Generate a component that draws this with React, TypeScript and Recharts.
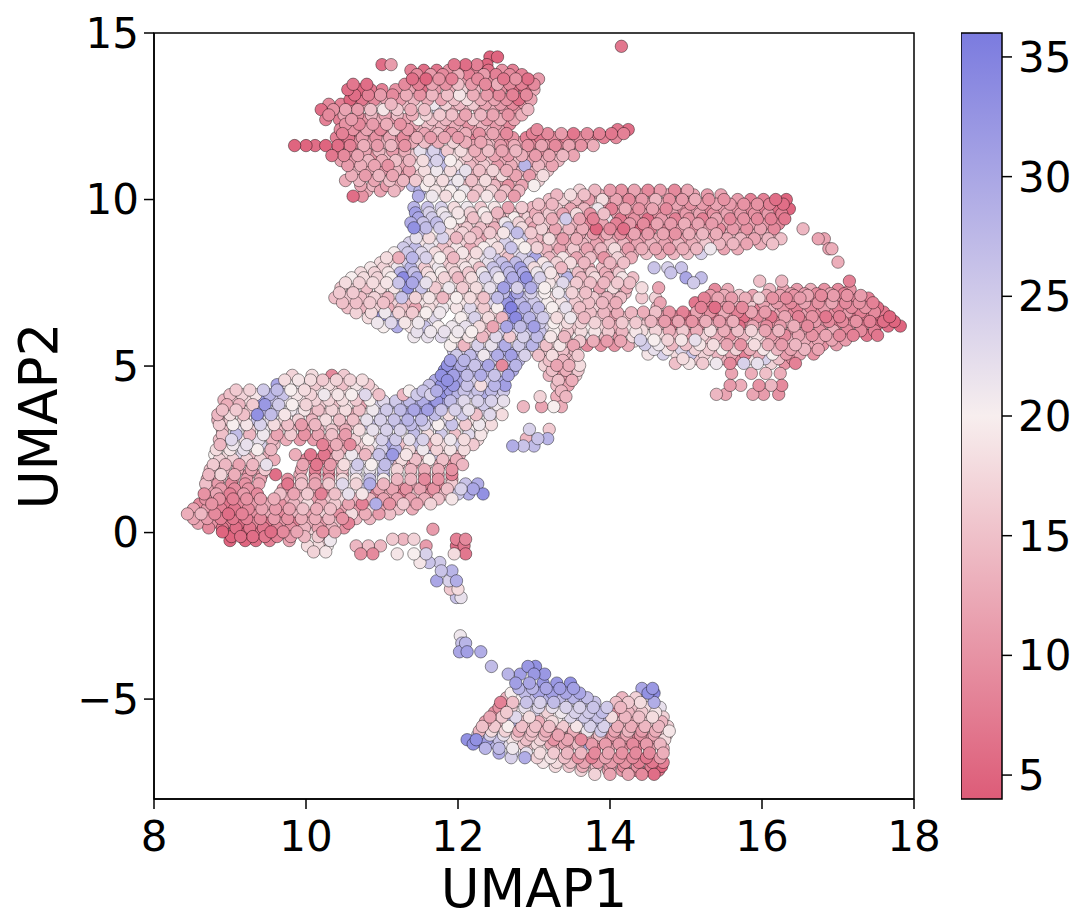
import { Bar, BarChart, ReferenceArea, Scatter, ScatterChart, XAxis, YAxis } from "recharts"

// each row: [umap2, umap1, value, umap1, value, ...]
const topRows: number[][] = [
  [14.6, 14.15, 7],
  [14.28, 12.42, 5, 12.52, 5],
  [14.05, 11.0, 6, 11.12, 11, 11.95, 7, 12.1, 6, 12.25, 8, 12.38, 5],
  [13.88, 11.38, 8, 11.55, 6, 11.72, 7, 11.88, 10, 12.05, 7, 12.22, 9, 12.4, 6, 12.58, 10, 12.72, 8],
  [13.62, 11.4, 6, 11.58, 5, 11.75, 10, 11.92, 8, 12.1, 12, 12.26, 9, 12.44, 10, 12.6, 7, 12.76, 10, 12.92, 6, 13.06, 11],
  [13.3, 10.55, 6, 10.7, 5, 10.85, 7, 11.0, 8, 11.18, 10, 11.36, 12, 11.52, 6, 11.7, 11, 11.88, 13, 12.05, 17, 12.22, 14, 12.4, 6, 12.56, 10, 12.72, 6, 12.88, 6, 13.0, 13],
  [13.0, 10.58, 5, 10.74, 7, 10.9, 9, 11.06, 12, 11.24, 11, 11.42, 14, 11.6, 13, 11.78, 12, 11.95, 15, 12.12, 18, 12.3, 13, 12.48, 12, 12.64, 10, 12.8, 6, 12.96, 12],
  [12.7, 10.2, 6, 10.36, 10, 10.52, 12, 10.68, 11, 10.85, 15, 11.02, 19, 11.2, 16, 11.38, 13, 11.56, 15, 11.74, 24, 11.92, 13, 12.1, 14, 12.28, 12, 12.46, 13, 12.62, 11, 12.78, 10, 12.92, 14],
  [12.4, 10.26, 8, 10.44, 8, 10.6, 11, 10.78, 10, 10.95, 13, 11.12, 11, 11.3, 12, 11.48, 20, 11.66, 15, 11.84, 14, 12.02, 12, 12.2, 16, 12.38, 11, 12.56, 13, 12.74, 12],
  [12.1, 10.45, 9, 10.62, 10, 10.8, 12, 10.98, 9, 11.16, 16, 11.34, 11, 11.52, 14, 11.7, 13, 11.88, 10, 12.06, 14, 12.24, 12, 12.42, 14, 12.6, 12, 13.04, 9, 14.1, 7, 14.24, 6],
  [11.86, 10.4, 8, 10.56, 7, 10.74, 11, 10.92, 10, 11.1, 12, 11.28, 9, 11.46, 13, 11.64, 11, 11.82, 12, 12.0, 11, 12.18, 8, 12.36, 13, 12.54, 11, 12.72, 10, 12.9, 8, 13.08, 7, 13.26, 9, 13.42, 8, 13.6, 10, 13.76, 7, 13.92, 8, 14.08, 9],
  [11.62, 9.85, 5, 10.0, 5, 10.12, 6, 10.26, 5, 10.42, 6, 10.58, 8, 10.76, 13, 10.94, 11, 11.12, 14, 11.3, 10, 11.48, 12, 11.66, 14, 11.84, 20, 12.02, 15, 12.2, 12, 12.38, 14, 12.56, 11, 12.74, 13, 12.92, 10, 13.1, 12, 13.28, 9, 13.46, 12, 13.62, 10, 13.78, 13],
  [11.32, 10.34, 7, 10.5, 9, 10.68, 12, 10.86, 10, 11.04, 15, 11.22, 13, 11.4, 16, 11.58, 26, 11.76, 28, 11.94, 18, 12.12, 16, 12.3, 13, 12.48, 12, 12.66, 11, 12.84, 13, 13.02, 11, 13.2, 12, 13.38, 14, 13.52, 12],
  [11.02, 10.55, 11, 10.72, 13, 10.9, 12, 11.08, 10, 11.26, 12, 11.44, 19, 11.62, 25, 11.8, 27, 11.98, 19, 12.16, 14, 12.34, 16, 12.52, 11, 12.7, 13, 12.88, 28, 13.06, 14, 13.24, 12],
  [10.72, 10.6, 13, 10.78, 11, 10.96, 14, 11.14, 12, 11.32, 10, 11.5, 16, 11.68, 19, 11.86, 21, 12.04, 24, 12.22, 13, 12.4, 15, 12.58, 18, 12.76, 12, 12.94, 11, 13.12, 18],
  [10.42, 10.72, 12, 10.88, 14, 11.06, 11, 11.22, 13, 11.4, 27, 11.58, 20, 11.76, 19, 11.94, 23, 12.12, 15, 12.3, 17, 12.48, 14, 12.66, 10, 12.84, 12, 13.0, 20],
  [10.1, 10.62, 6, 10.74, 10, 11.48, 29, 11.66, 21, 11.84, 18, 12.02, 20, 12.2, 15, 12.38, 19, 12.56, 14, 12.74, 11],
]

const wingTopRows: number[][] = [
  [10.28, 13.6, 17, 13.8, 14, 14.0, 11, 14.15, 10, 14.32, 12, 14.5, 9, 14.66, 11, 14.85, 9, 15.02, 12],
  [10.0, 13.2, 15, 13.38, 17, 13.55, 14, 13.72, 11, 13.9, 18, 14.08, 12, 14.25, 9, 14.42, 11, 14.6, 14, 14.78, 10, 14.95, 11, 15.12, 13, 15.3, 10, 15.5, 10, 15.68, 11, 15.85, 8, 16.02, 8, 16.18, 6, 16.32, 5],
  [9.72, 13.12, 13, 13.3, 16, 13.48, 12, 13.66, 14, 13.84, 21, 14.02, 8, 14.2, 13, 14.38, 10, 14.56, 12, 14.74, 9, 14.92, 10, 15.1, 12, 15.28, 9, 15.46, 11, 15.64, 10, 15.82, 9, 16.0, 8, 16.18, 6, 16.36, 5],
  [9.42, 13.06, 15, 13.24, 13, 13.42, 25, 13.6, 12, 13.78, 8, 13.96, 21, 14.14, 7, 14.32, 10, 14.5, 6, 14.68, 11, 14.86, 8, 15.04, 10, 15.22, 8, 15.4, 12, 15.58, 9, 15.76, 10, 15.94, 9, 16.12, 8, 16.3, 7],
  [9.12, 13.1, 17, 13.28, 12, 13.46, 14, 13.64, 13, 13.82, 5, 14.0, 9, 14.18, 6, 14.36, 5, 14.54, 8, 14.72, 9, 14.9, 11, 15.08, 10, 15.26, 12, 15.44, 9, 15.62, 11, 15.8, 10, 15.98, 12, 16.16, 9, 16.54, 14],
  [8.82, 13.2, 18, 13.38, 11, 13.56, 13, 13.74, 15, 13.92, 10, 14.1, 12, 14.28, 9, 14.46, 11, 14.64, 13, 14.82, 10, 15.0, 11, 15.18, 14, 15.36, 12, 15.54, 13, 15.72, 14, 15.9, 12, 16.08, 14, 16.25, 15, 16.74, 12, 16.82, 12],
  [8.52, 13.16, 14, 13.34, 12, 13.52, 16, 13.7, 12, 13.88, 14, 14.06, 18, 14.24, 11, 14.42, 13, 14.6, 12, 14.78, 11, 14.96, 13, 15.14, 14, 15.32, 21, 15.5, 12, 15.68, 13, 16.88, 12, 16.92, 13],
  [8.12, 17.0, 13],
]

const midRows: number[][] = [
  [9.76, 11.42, 28, 11.6, 26, 11.78, 24, 11.95, 18, 12.12, 21, 12.3, 16, 12.48, 19, 12.66, 12, 12.84, 16, 12.98, 14],
  [9.45, 11.48, 30, 11.66, 25, 11.84, 22, 12.02, 20, 12.2, 15, 12.38, 18, 12.56, 14, 12.74, 20, 12.92, 17],
  [9.15, 11.42, 33, 11.58, 27, 11.76, 25, 11.94, 17, 12.12, 16, 12.3, 15, 12.48, 13, 12.66, 25, 12.84, 18, 13.0, 12],
  [8.85, 11.45, 22, 11.62, 18, 11.8, 24, 11.98, 14, 12.16, 16, 12.34, 12, 12.52, 17, 12.7, 22, 12.88, 25, 13.04, 14],
  [8.55, 11.28, 25, 11.44, 27, 11.62, 22, 11.8, 15, 11.98, 19, 12.16, 13, 12.34, 20, 12.52, 18, 12.7, 26, 12.88, 20, 13.04, 17],
  [8.25, 11.06, 18, 11.22, 13, 11.4, 28, 11.58, 24, 11.76, 20, 11.94, 14, 12.12, 17, 12.3, 22, 12.48, 25, 12.66, 15, 12.84, 24, 13.02, 30, 13.2, 14, 13.38, 19, 13.56, 12, 13.74, 15, 13.92, 10, 14.1, 17, 14.28, 13],
  [7.95, 10.85, 19, 11.02, 17, 11.2, 21, 11.38, 28, 11.56, 16, 11.74, 21, 11.92, 17, 12.1, 19, 12.28, 15, 12.46, 26, 12.64, 28, 12.82, 31, 13.0, 18, 13.18, 22, 13.36, 14, 13.54, 20, 13.72, 13, 13.9, 15, 14.08, 12, 14.58, 26, 14.76, 24, 14.94, 26],
  [7.65, 10.6, 20, 10.76, 18, 10.94, 17, 11.12, 20, 11.28, 34, 11.46, 29, 11.64, 19, 11.82, 17, 12.0, 14, 12.18, 18, 12.36, 24, 12.54, 21, 12.72, 29, 12.9, 33, 13.08, 24, 13.26, 17, 13.44, 28, 13.62, 14, 13.8, 18, 13.98, 13, 14.16, 19, 14.3, 15, 15.0, 30, 15.2, 27],
  [7.35, 10.46, 16, 10.62, 17, 10.8, 15, 10.98, 18, 11.16, 19, 11.34, 33, 11.52, 26, 11.7, 16, 11.88, 21, 12.06, 16, 12.24, 18, 12.42, 22, 12.6, 31, 12.78, 24, 12.96, 29, 13.14, 20, 13.32, 21, 13.5, 18, 13.68, 15, 13.86, 12, 14.04, 18, 14.22, 13, 14.42, 18, 14.64, 12],
  [7.05, 10.38, 15, 10.55, 16, 10.72, 15, 10.9, 17, 11.08, 14, 11.26, 26, 11.44, 17, 11.62, 19, 11.8, 14, 11.98, 20, 12.16, 18, 12.34, 15, 12.52, 27, 12.7, 33, 12.88, 26, 13.06, 22, 13.24, 18, 13.42, 24, 13.6, 17, 13.78, 16, 13.96, 14, 14.14, 15, 14.42, 16, 14.6, 17],
  [6.75, 10.55, 15, 10.72, 14, 10.9, 17, 11.08, 13, 11.26, 15, 11.44, 12, 11.62, 18, 11.8, 21, 11.98, 19, 12.16, 23, 12.34, 16, 12.52, 20, 12.7, 35, 12.88, 29, 13.06, 27, 13.24, 20, 13.42, 22, 13.6, 15, 13.78, 17, 13.96, 14],
  [6.45, 10.82, 18, 10.98, 31, 11.16, 25, 11.34, 16, 11.52, 19, 11.7, 23, 12.04, 20, 12.22, 24, 12.4, 18, 12.58, 14, 12.76, 34, 12.94, 28, 13.12, 25, 13.3, 18, 13.48, 21, 13.66, 14, 13.84, 16, 14.02, 11, 14.2, 15],
  [6.18, 11.02, 20, 11.2, 29, 11.38, 19, 11.56, 26, 11.74, 20, 11.92, 21, 12.1, 22, 12.28, 18, 12.46, 12, 12.64, 30, 12.82, 27, 13.0, 31, 13.18, 23, 13.36, 19, 13.54, 16, 13.72, 20, 13.9, 17, 14.08, 13, 14.26, 19],
  [5.88, 11.42, 21, 11.6, 22, 11.78, 23, 11.96, 20, 12.14, 19, 12.32, 14, 12.5, 23, 12.68, 16, 12.86, 24, 13.04, 27, 13.22, 19, 13.4, 14, 13.58, 20, 13.76, 21, 13.94, 15, 14.12, 11, 14.3, 18],
  [5.62, 11.9, 20, 12.08, 14, 12.26, 24, 12.44, 22, 12.62, 29, 12.8, 25, 12.98, 28, 13.16, 15, 13.34, 19, 13.52, 12, 13.7, 9, 13.88, 10, 14.06, 10, 14.24, 13],
  [5.32, 11.98, 25, 12.16, 27, 12.34, 21, 12.52, 29, 12.7, 31, 12.88, 24, 13.06, 15, 13.24, 18, 13.42, 14, 13.58, 16],
  [5.02, 11.86, 33, 12.04, 29, 12.22, 26, 12.4, 30, 12.58, 9, 12.76, 28, 13.14, 17, 13.3, 12, 13.46, 13, 13.6, 18],
  [4.72, 11.78, 33, 11.94, 31, 12.12, 27, 12.3, 29, 12.48, 26, 12.66, 30, 13.2, 14, 13.38, 11, 13.55, 17],
  [4.42, 11.62, 26, 11.78, 33, 11.94, 32, 12.12, 26, 12.3, 18, 12.48, 28, 12.62, 31, 13.3, 15, 13.45, 12],
  [4.08, 13.08, 17, 13.3, 13, 13.42, 14],
  [3.78, 12.86, 14, 13.1, 12, 13.26, 20, 13.36, 13],
  [3.1, 13.2, 16, 12.94, 24],
  [2.82, 12.9, 14, 13.05, 26, 13.18, 28],
  [2.6, 12.72, 29, 12.86, 26, 13.0, 27],
]

const wingLowRows: number[][] = [
  [7.55, 15.97, 15, 16.26, 14, 17.15, 8],
  [7.3, 15.38, 9, 15.55, 13, 16.1, 14, 16.28, 12, 16.46, 11, 16.64, 13, 16.82, 10, 17.0, 9, 17.16, 10],
  [7.04, 15.24, 8, 15.42, 12, 15.6, 11, 15.78, 13, 15.96, 17, 16.14, 10, 16.32, 9, 16.5, 11, 16.68, 10, 16.86, 8, 17.04, 10, 17.22, 9, 17.4, 8],
  [6.76, 14.62, 15, 15.2, 8, 15.38, 6, 15.56, 10, 15.74, 9, 15.92, 8, 16.1, 14, 16.28, 10, 16.46, 8, 16.64, 9, 16.82, 11, 17.0, 8, 17.18, 9, 17.36, 10, 17.52, 6],
  [6.48, 14.5, 14, 14.68, 11, 14.86, 9, 15.04, 6, 15.22, 11, 15.4, 7, 15.58, 10, 15.76, 6, 15.94, 9, 16.12, 7, 16.3, 12, 16.48, 8, 16.66, 10, 16.84, 7, 17.02, 8, 17.2, 7, 17.38, 8, 17.56, 6, 17.68, 5],
  [6.2, 14.44, 16, 14.62, 13, 14.8, 7, 14.98, 10, 15.16, 9, 15.34, 13, 15.52, 11, 15.7, 6, 15.88, 12, 16.06, 9, 16.24, 11, 16.42, 13, 16.6, 9, 16.78, 11, 16.96, 8, 17.14, 10, 17.32, 7, 17.5, 6, 17.66, 6, 17.82, 5],
  [5.92, 14.5, 20, 14.68, 18, 14.86, 14, 15.04, 11, 15.22, 17, 15.4, 13, 15.58, 10, 15.76, 14, 15.94, 18, 16.12, 11, 16.3, 9, 16.48, 12, 16.66, 10, 16.84, 12, 17.02, 9, 17.2, 8, 17.38, 7, 17.52, 7],
  [5.64, 14.46, 25, 14.64, 21, 14.82, 14, 15.0, 15, 15.18, 19, 15.36, 18, 15.54, 12, 15.72, 10, 15.9, 18, 16.08, 13, 16.26, 11, 16.44, 14, 16.62, 12, 16.8, 10, 16.98, 11],
  [5.36, 14.5, 19, 14.7, 24, 14.88, 18, 15.06, 26, 15.24, 17, 15.42, 14, 15.6, 12, 15.78, 8, 15.96, 13, 16.14, 20, 16.32, 11, 16.5, 12, 16.68, 10],
  [5.08, 14.86, 15, 15.04, 19, 15.22, 16, 15.4, 21, 15.58, 9, 15.76, 24, 15.94, 22, 16.12, 17, 16.3, 10, 16.44, 8],
  [4.78, 15.6, 12, 15.86, 13, 16.05, 15, 16.24, 13],
  [4.42, 15.58, 11, 15.72, 13, 15.96, 10, 16.12, 14, 16.26, 9],
  [4.15, 15.4, 14, 15.52, 12, 15.88, 12, 16.02, 11, 16.22, 10],
]

const leftRows: number[][] = [
  [4.72, 9.82, 17, 10.08, 18, 10.34, 9, 10.5, 16],
  [4.44, 9.62, 30, 9.76, 20, 9.94, 21, 10.12, 16, 10.3, 18, 10.48, 15, 10.66, 19, 10.82, 16],
  [4.14, 9.0, 15, 9.16, 17, 9.34, 19, 9.52, 28, 9.7, 26, 9.88, 19, 10.06, 17, 10.24, 21, 10.42, 19, 10.6, 20, 10.78, 23, 10.96, 15, 11.28, 14, 11.46, 25, 11.64, 24, 11.82, 33, 12.0, 28, 12.16, 25, 12.34, 29, 12.5, 24],
  [3.84, 8.96, 13, 9.12, 14, 9.3, 16, 9.46, 32, 9.64, 25, 9.82, 20, 10.0, 17, 10.18, 16, 10.36, 15, 10.54, 19, 10.72, 12, 10.9, 24, 11.08, 27, 11.26, 26, 11.44, 28, 11.62, 34, 11.8, 30, 11.98, 24, 12.16, 20, 12.34, 25, 12.52, 21],
  [3.54, 8.84, 14, 9.0, 18, 9.18, 15, 9.36, 33, 9.54, 27, 9.72, 19, 9.9, 22, 10.08, 14, 10.26, 16, 10.44, 17, 10.62, 13, 10.8, 19, 10.98, 25, 11.16, 22, 11.34, 29, 11.52, 31, 11.7, 27, 11.88, 18, 12.06, 25, 12.24, 15, 12.42, 23, 12.58, 18],
  [3.24, 8.86, 16, 9.04, 20, 9.22, 19, 9.4, 24, 9.58, 18, 9.76, 15, 9.94, 11, 10.12, 14, 10.3, 19, 10.48, 14, 10.66, 16, 10.84, 26, 11.02, 23, 11.2, 28, 11.38, 27, 11.56, 24, 11.74, 20, 11.92, 26, 12.1, 16, 12.28, 21, 12.44, 18],
  [2.94, 8.9, 15, 9.08, 27, 9.26, 14, 9.44, 21, 9.62, 12, 9.8, 16, 9.98, 10, 10.16, 12, 10.34, 15, 10.52, 11, 10.7, 20, 10.88, 18, 11.06, 24, 11.24, 20, 11.42, 27, 11.6, 18, 11.78, 25, 11.96, 15, 12.14, 23, 12.3, 19],
  [2.64, 8.87, 14, 9.04, 21, 9.22, 22, 9.4, 24, 9.58, 15, 10.22, 8, 10.4, 13, 10.58, 9, 10.76, 17, 10.94, 21, 11.12, 30, 11.3, 15, 11.48, 26, 11.66, 13, 11.84, 18, 12.02, 24, 12.2, 16],
  [2.34, 8.8, 20, 8.98, 18, 9.16, 23, 9.34, 15, 9.52, 13, 9.86, 13, 10.06, 7, 10.24, 7, 10.42, 15, 10.6, 21, 10.78, 14, 10.96, 26, 11.14, 32, 11.32, 19, 11.5, 14, 11.68, 25, 11.86, 18, 12.02, 14],
  [2.04, 8.78, 16, 8.94, 14, 9.12, 12, 9.3, 14, 9.48, 22, 9.96, 12, 10.14, 7, 10.32, 11, 10.5, 18, 10.68, 25, 10.86, 20, 11.04, 27, 11.22, 15, 11.4, 11, 11.58, 17, 11.76, 13, 11.94, 10, 12.06, 14],
  [1.74, 8.72, 14, 8.88, 17, 9.06, 13, 9.24, 11, 9.42, 12, 9.6, 6, 9.92, 13, 10.12, 9, 10.3, 7, 10.48, 13, 10.66, 22, 10.84, 24, 11.02, 28, 11.2, 19, 11.38, 17, 11.56, 10, 11.74, 12, 11.92, 8],
  [1.46, 8.68, 15, 8.84, 11, 9.02, 9, 9.2, 10, 9.38, 12, 9.76, 7, 9.94, 15, 10.12, 12, 10.3, 16, 10.48, 23, 10.66, 17, 10.84, 29, 11.02, 14, 11.2, 10, 11.38, 12, 11.56, 8, 11.74, 9, 11.92, 16, 12.1, 26, 12.26, 29],
  [1.16, 8.66, 10, 8.82, 12, 9.0, 8, 9.18, 11, 9.36, 9, 9.66, 15, 9.84, 12, 10.02, 16, 10.2, 8, 10.38, 15, 10.56, 22, 10.74, 19, 10.92, 9, 11.1, 13, 11.28, 8, 11.46, 16, 11.64, 10, 11.82, 14, 12.0, 25, 12.14, 29, 12.33, 33],
  [0.86, 8.6, 9, 8.76, 10, 8.94, 7, 9.12, 9, 9.3, 11, 9.48, 13, 9.66, 10, 9.84, 14, 10.02, 18, 10.2, 13, 10.38, 16, 10.56, 12, 10.74, 8, 10.92, 29, 11.1, 10, 11.28, 16, 11.46, 12, 11.64, 17],
  [0.56, 8.44, 13, 8.62, 14, 8.8, 9, 8.98, 6, 9.16, 8, 9.34, 10, 9.52, 13, 9.7, 9, 9.88, 14, 10.06, 12, 10.24, 17, 10.42, 10, 10.6, 18, 10.78, 13, 10.96, 11, 11.1, 15],
  [0.28, 8.58, 12, 8.76, 10, 8.94, 8, 9.12, 6, 9.3, 9, 9.48, 7, 9.66, 11, 9.84, 8, 10.02, 13, 10.2, 11, 10.38, 16, 10.56, 8],
  [0.02, 8.9, 5, 9.06, 6, 9.22, 5, 9.38, 7, 9.54, 6, 9.7, 9, 9.88, 12, 10.06, 17, 10.22, 10, 10.38, 13],
  [-0.24, 9.0, 5, 9.2, 5, 9.34, 6, 9.52, 8, 9.78, 12, 10.06, 20, 10.2, 16, 10.32, 21],
  [-0.58, 10.1, 17, 10.26, 19],
]

const tailRows: number[][] = [
  [0.1, 11.67, 11],
  [-0.2, 11.14, 16, 11.28, 14, 11.42, 17, 11.98, 8, 12.1, 9],
  [-0.4, 10.66, 14, 10.82, 15, 10.98, 14, 11.58, 11, 11.98, 6, 12.08, 7],
  [-0.64, 10.72, 10, 10.88, 9, 11.2, 19, 11.42, 20, 11.58, 24, 11.95, 18, 12.1, 7],
  [-0.9, 11.5, 19, 11.62, 26, 11.76, 25],
  [-1.15, 11.78, 26, 11.92, 28],
  [-1.45, 11.72, 30, 11.88, 24, 11.98, 29],
  [-1.7, 11.9, 16, 12.0, 18],
  [-1.95, 11.98, 26, 12.04, 22],
]

const bottomRows: number[][] = [
  [-3.1, 12.03, 21],
  [-3.32, 12.05, 26, 12.1, 28],
  [-3.58, 12.02, 30, 12.12, 31, 12.3, 29],
  [-4.02, 12.44, 27, 12.92, 32, 13.02, 33],
  [-4.25, 12.66, 28, 12.82, 31, 13.0, 32, 13.14, 32],
  [-4.52, 12.76, 31, 12.94, 30, 13.12, 32, 13.3, 32, 13.48, 33],
  [-4.82, 12.7, 20, 12.88, 27, 13.06, 30, 13.24, 31, 13.42, 30, 13.6, 30, 14.5, 33, 14.58, 34],
  [-5.1, 12.56, 8, 12.72, 15, 12.9, 26, 13.08, 24, 13.26, 27, 13.44, 24, 13.62, 27, 13.8, 26, 14.08, 15, 14.24, 16, 14.4, 18, 14.58, 29],
  [-5.4, 12.48, 10, 12.64, 16, 12.82, 20, 13.0, 24, 13.18, 17, 13.36, 21, 13.54, 24, 13.72, 25, 13.9, 27, 14.06, 10, 14.24, 14, 14.42, 16, 14.6, 19],
  [-5.68, 12.36, 12, 12.52, 15, 12.7, 28, 12.88, 16, 13.06, 13, 13.24, 18, 13.42, 21, 13.6, 25, 13.78, 27, 13.96, 26, 14.14, 15, 14.32, 13, 14.5, 17, 14.68, 14],
  [-5.96, 12.28, 14, 12.44, 18, 12.62, 17, 12.8, 13, 12.98, 15, 13.16, 13, 13.34, 11, 13.52, 13, 13.7, 21, 13.88, 25, 14.06, 12, 14.24, 14, 14.42, 11, 14.6, 13, 14.78, 19],
  [-6.22, 12.12, 33, 12.24, 33, 12.38, 31, 12.54, 26, 12.72, 19, 12.9, 15, 13.08, 17, 13.26, 10, 13.44, 12, 13.62, 9, 13.8, 13, 13.98, 10, 14.16, 12, 14.34, 9, 14.52, 11, 14.72, 18],
  [-6.48, 12.36, 28, 12.54, 27, 12.72, 21, 12.9, 16, 13.08, 19, 13.26, 14, 13.44, 12, 13.62, 29, 13.8, 9, 13.98, 12, 14.16, 10, 14.34, 8, 14.52, 12, 14.7, 14],
  [-6.76, 12.7, 24, 12.88, 29, 13.04, 17, 13.22, 19, 13.4, 15, 13.58, 10, 13.76, 8, 13.94, 12, 14.12, 10, 14.3, 9, 14.48, 7, 14.66, 11],
  [-7.02, 13.28, 18, 13.46, 16, 13.64, 13, 13.82, 15, 14.0, 11, 14.18, 9, 14.36, 10, 14.54, 8, 14.68, 5],
  [-7.26, 13.8, 17, 14.0, 12, 14.24, 12, 14.42, 9, 14.58, 6],
]

// second pass of points, sitting in the gaps of the rows above
const topFill: number[][] = [
  [13.75, 11.46, 9, 11.64, 11, 11.8, 9, 12.0, 13, 12.14, 8, 12.34, 11, 12.5, 8, 12.68, 9, 12.84, 8],
  [13.46, 10.62, 7, 10.8, 6, 11.3, 9, 11.48, 8, 11.66, 12, 11.84, 10, 12.0, 15, 12.18, 11, 12.36, 9, 12.52, 13, 12.68, 9, 12.84, 8, 13.0, 9],
  [13.14, 10.64, 6, 10.82, 8, 10.98, 11, 11.14, 9, 11.32, 13, 11.5, 10, 11.66, 14, 11.86, 15, 12.02, 19, 12.2, 13, 12.38, 11, 12.54, 9, 12.72, 8, 12.9, 9],
  [12.86, 10.3, 9, 10.46, 8, 10.62, 9, 10.8, 12, 10.96, 17, 11.12, 14, 11.32, 15, 11.5, 18, 11.68, 21, 11.84, 17, 12.02, 14, 12.2, 16, 12.36, 12, 12.56, 11, 12.72, 9, 12.88, 11],
  [12.54, 10.3, 9, 10.5, 12, 10.68, 10, 10.86, 14, 11.04, 12, 11.2, 15, 11.4, 13, 11.58, 17, 11.76, 16, 11.92, 15, 12.1, 12, 12.3, 14, 12.46, 12, 12.66, 10, 12.84, 13],
  [12.26, 10.52, 10, 10.7, 9, 10.88, 11, 11.06, 13, 11.24, 10, 11.42, 12, 11.6, 15, 11.78, 14, 11.96, 13, 12.14, 10, 12.32, 14, 12.5, 11, 12.68, 9],
  [11.98, 10.48, 8, 10.66, 10, 10.84, 13, 11.02, 11, 11.2, 14, 11.38, 10, 11.56, 12, 11.74, 15, 11.92, 11, 12.1, 13, 12.28, 10, 12.46, 12, 12.64, 9, 12.98, 8, 13.18, 9, 13.36, 11, 13.52, 7, 13.7, 9, 13.86, 8, 14.02, 7, 14.18, 8],
  [11.72, 10.5, 7, 10.66, 10, 10.84, 12, 11.02, 14, 11.2, 11, 11.4, 13, 11.56, 15, 11.74, 13, 11.94, 17, 12.1, 13, 12.3, 12, 12.48, 15, 12.66, 10, 12.84, 12, 13.02, 9, 13.2, 11, 13.36, 10, 13.54, 12, 13.72, 11],
  [11.46, 10.42, 8, 10.6, 10, 10.78, 12, 10.96, 14, 11.14, 11, 11.3, 13, 11.5, 22, 11.68, 24, 11.86, 16, 12.04, 18, 12.22, 13, 12.4, 15, 12.58, 12, 12.76, 14, 12.94, 12, 13.12, 10, 13.3, 13, 13.46, 13],
  [11.17, 10.46, 12, 10.64, 11, 10.82, 14, 11.0, 13, 11.18, 15, 11.36, 14, 11.54, 18, 11.72, 24, 11.9, 20, 12.08, 17, 12.26, 14, 12.44, 16, 12.6, 13, 12.8, 15, 12.98, 12, 13.16, 13, 13.32, 14],
  [10.87, 10.64, 14, 10.82, 13, 11.0, 11, 11.18, 14, 11.36, 12, 11.56, 18, 11.72, 21, 11.9, 18, 12.1, 22, 12.28, 15, 12.46, 17, 12.64, 13, 12.82, 14, 13.0, 15, 13.18, 16],
  [10.57, 10.52, 13, 10.7, 14, 10.9, 12, 11.1, 15, 11.28, 14, 11.44, 16, 11.62, 19, 11.8, 18, 12.0, 21, 12.18, 15, 12.36, 18, 12.54, 13, 12.72, 15, 12.9, 18, 13.06, 17],
  [10.26, 10.8, 13, 10.98, 12, 11.16, 14, 11.5, 28, 11.7, 19, 11.9, 20, 12.08, 21, 12.26, 16, 12.44, 17, 12.62, 15, 12.8, 14],
]

const wingFill: number[][] = [
  [10.14, 13.3, 14, 13.48, 18, 13.66, 15, 13.86, 13, 14.04, 14, 14.22, 11, 14.4, 13, 14.58, 11, 14.76, 13, 14.94, 10, 15.1, 12, 15.28, 11, 15.46, 12],
  [9.86, 13.06, 15, 13.24, 14, 13.44, 19, 13.62, 13, 13.8, 17, 13.98, 11, 14.16, 12, 14.34, 12, 14.52, 11, 14.7, 13, 14.88, 12, 15.06, 10, 15.22, 11, 15.4, 12, 15.58, 11, 15.76, 10, 15.94, 10, 16.1, 8, 16.28, 6],
  [9.57, 13.02, 13, 13.2, 16, 13.38, 12, 13.56, 18, 13.74, 10, 13.92, 15, 14.1, 12, 14.28, 9, 14.46, 12, 14.64, 10, 14.82, 12, 15.0, 11, 15.18, 12, 15.36, 10, 15.54, 12, 15.72, 11, 15.9, 10, 16.08, 11, 16.26, 8],
  [9.27, 13.14, 16, 13.34, 18, 13.52, 14, 13.7, 9, 13.9, 12, 14.08, 8, 14.26, 11, 14.44, 9, 14.62, 12, 14.8, 11, 14.98, 13, 15.16, 12, 15.34, 11, 15.52, 13, 15.7, 12, 15.88, 12, 16.06, 11, 16.22, 9],
  [8.97, 13.04, 15, 13.24, 14, 13.42, 17, 13.6, 12, 13.78, 11, 13.96, 13, 14.14, 10, 14.32, 12, 14.5, 11, 14.7, 12, 14.86, 10, 15.04, 13, 15.22, 14, 15.4, 13, 15.58, 15, 15.76, 13, 15.94, 14, 16.12, 14],
  [8.67, 13.1, 13, 13.28, 15, 13.46, 13, 13.64, 14, 13.82, 12, 14.0, 15, 14.18, 14, 14.36, 12, 14.54, 14, 14.72, 12, 14.9, 14, 15.08, 13, 15.26, 16, 15.44, 14, 15.62, 14, 15.8, 12, 15.98, 13, 16.14, 15],
  [8.38, 14.3, 14, 14.48, 15, 14.66, 13, 14.84, 14, 15.02, 15, 15.2, 24],
  [7.12, 15.32, 11, 15.5, 13, 15.7, 16, 15.88, 12, 16.06, 13, 16.24, 12, 16.42, 10, 16.6, 12, 16.78, 9, 16.94, 11, 17.12, 10, 17.3, 11],
  [7.17, 16.38, 12, 16.56, 11, 16.72, 9, 16.9, 12, 17.08, 8],
  [6.9, 14.66, 12, 15.12, 7, 15.3, 9, 15.48, 12, 15.66, 14, 15.84, 16, 16.02, 12, 16.2, 11, 16.38, 9, 16.56, 12, 16.74, 10, 16.92, 12, 17.1, 9, 17.28, 10, 17.46, 8],
  [6.62, 14.44, 13, 14.6, 15, 14.78, 10, 14.96, 8, 15.14, 12, 15.32, 10, 15.5, 13, 15.68, 8, 15.86, 12, 16.04, 11, 16.22, 13, 16.4, 9, 16.58, 12, 16.76, 9, 16.94, 10, 17.12, 11, 17.3, 8, 17.48, 9, 17.6, 7],
  [6.34, 14.54, 14, 14.72, 11, 14.9, 12, 15.08, 10, 15.26, 13, 15.44, 11, 15.62, 13, 15.8, 10, 15.98, 13, 16.16, 10, 16.34, 14, 16.52, 10, 16.7, 11, 16.88, 9, 17.06, 9, 17.24, 10, 17.42, 8, 17.6, 6, 17.74, 5],
  [6.06, 14.42, 18, 14.6, 17, 14.78, 13, 14.96, 16, 15.14, 13, 15.32, 18, 15.5, 13, 15.68, 15, 15.86, 17, 16.04, 12, 16.22, 14, 16.4, 11, 16.58, 12, 16.76, 10, 16.94, 13, 17.12, 9, 17.3, 9, 17.48, 8],
  [5.78, 14.4, 24, 14.58, 20, 14.76, 17, 14.94, 19, 15.12, 22, 15.3, 15, 15.48, 14, 15.66, 15, 15.84, 19, 16.02, 17, 16.2, 12, 16.38, 14, 16.56, 13, 16.74, 12, 16.92, 12, 17.1, 11],
  [5.5, 14.58, 22, 14.76, 19, 14.94, 23, 15.12, 17, 15.3, 16, 15.48, 20, 15.66, 17, 15.84, 13, 16.02, 19, 16.2, 14, 16.38, 12, 16.56, 14, 16.74, 12],
  [5.22, 14.96, 18, 15.14, 16, 15.32, 20, 15.5, 14, 15.68, 9, 15.86, 19, 16.04, 24, 16.22, 15, 16.4, 10],
]

const midFill: number[][] = [
  [9.6, 11.44, 31, 11.62, 24, 11.8, 21, 12.0, 19, 12.16, 17, 12.34, 20, 12.52, 14, 12.7, 16, 12.88, 14],
  [9.3, 11.38, 29, 11.54, 26, 11.72, 27, 11.9, 20, 12.08, 15, 12.26, 18, 12.44, 15, 12.62, 21, 12.8, 17, 12.96, 14],
  [9.0, 11.5, 26, 11.7, 20, 11.88, 18, 12.06, 17, 12.24, 14, 12.42, 16, 12.6, 19, 12.78, 27, 12.96, 16],
  [8.7, 11.36, 24, 11.54, 19, 11.72, 21, 11.9, 16, 12.08, 17, 12.26, 15, 12.44, 19, 12.62, 24, 12.8, 20, 12.98, 15],
  [8.4, 11.16, 20, 11.34, 25, 11.52, 23, 11.7, 18, 11.88, 16, 12.06, 19, 12.24, 18, 12.42, 23, 12.6, 17, 12.78, 22, 12.96, 26, 13.14, 17, 13.3, 16, 13.48, 14, 13.66, 15, 13.84, 12, 14.02, 15, 14.2, 14],
  [8.1, 10.98, 18, 11.14, 17, 11.32, 24, 11.5, 22, 11.68, 19, 11.86, 16, 12.04, 18, 12.22, 19, 12.4, 22, 12.58, 26, 12.76, 27, 12.94, 24, 13.12, 19, 13.3, 17, 13.48, 18, 13.66, 14, 14.0, 14, 14.18, 15],
  [7.8, 10.72, 18, 10.9, 17, 11.08, 19, 11.24, 28, 11.42, 26, 11.6, 18, 11.78, 20, 11.96, 17, 12.14, 16, 12.32, 21, 12.5, 24, 12.68, 27, 12.86, 29, 13.04, 21, 13.22, 19, 13.4, 24, 13.58, 15, 13.76, 16, 13.94, 13, 14.12, 16, 14.8, 26],
  [7.5, 10.52, 18, 10.7, 17, 10.88, 18, 11.06, 19, 11.22, 26, 11.4, 30, 11.58, 22, 11.76, 18, 11.94, 19, 12.12, 17, 12.3, 21, 12.48, 23, 12.66, 29, 12.84, 30, 13.02, 25, 13.2, 19, 13.38, 23, 13.56, 16, 13.74, 15, 13.92, 14, 14.1, 16, 14.26, 15, 15.1, 25],
  [7.2, 10.44, 16, 10.62, 16, 10.8, 17, 10.98, 16, 11.16, 20, 11.34, 24, 11.52, 18, 11.7, 18, 11.88, 16, 12.06, 18, 12.24, 17, 12.42, 23, 12.6, 27, 12.78, 30, 12.96, 24, 13.14, 20, 13.32, 21, 13.5, 17, 13.68, 15, 13.86, 15, 14.04, 14, 14.2, 15],
  [6.9, 10.48, 15, 10.66, 15, 10.84, 16, 11.02, 15, 11.2, 17, 11.38, 15, 11.56, 19, 11.74, 18, 11.92, 20, 12.1, 19, 12.28, 17, 12.46, 23, 12.64, 32, 12.82, 27, 13.0, 25, 13.18, 20, 13.36, 19, 13.54, 16, 13.72, 15, 13.9, 14, 14.08, 13],
  [6.6, 10.66, 17, 10.86, 18, 11.04, 21, 11.22, 17, 11.4, 16, 11.58, 20, 11.76, 21, 12.12, 21, 12.3, 19, 12.48, 17, 12.66, 30, 12.84, 27, 13.02, 24, 13.2, 21, 13.38, 19, 13.56, 16, 13.74, 15, 13.92, 14, 14.1, 13, 14.28, 14],
  [6.3, 10.94, 21, 11.12, 23, 11.3, 19, 11.48, 21, 11.66, 22, 12.0, 21, 12.18, 21, 12.36, 17, 12.54, 20, 12.72, 28, 12.9, 27, 13.08, 25, 13.26, 20, 13.44, 18, 13.62, 17, 13.8, 17, 13.98, 14, 14.16, 16, 14.34, 16],
  [6.03, 11.46, 22, 11.64, 21, 11.82, 22, 12.0, 21, 12.18, 20, 12.36, 16, 12.54, 24, 12.72, 23, 12.9, 25, 13.08, 26, 13.26, 20, 13.44, 16, 13.62, 18, 13.8, 19, 13.98, 16, 14.16, 14, 14.34, 19],
  [5.75, 11.98, 19, 12.16, 20, 12.34, 19, 12.52, 25, 12.7, 20, 12.88, 25, 13.06, 24, 13.24, 17, 13.42, 15, 13.6, 16, 13.78, 13, 13.96, 11, 14.14, 12, 14.32, 19],
  [5.46, 11.94, 25, 12.12, 23, 12.3, 25, 12.48, 26, 12.66, 28, 12.84, 26, 13.02, 18, 13.2, 16, 13.38, 15, 13.54, 15],
  [5.17, 11.9, 31, 12.08, 28, 12.26, 27, 12.44, 24, 12.62, 26, 12.8, 27, 13.2, 15, 13.38, 14, 13.54, 15],
  [4.87, 11.82, 33, 12.0, 30, 12.18, 27, 12.36, 26, 12.54, 22, 12.72, 29, 13.24, 15, 13.42, 13, 13.58, 16],
  [4.57, 11.7, 29, 11.86, 33, 12.04, 30, 12.22, 24, 12.4, 24, 12.58, 29, 13.32, 15, 13.5, 13],
  [4.25, 11.36, 20, 11.54, 26, 11.72, 29, 11.9, 31, 12.08, 26, 12.26, 26, 12.44, 27, 12.6, 25, 13.36, 14],
  [3.95, 11.02, 23, 11.18, 25, 11.36, 27, 11.54, 29, 11.72, 32, 11.9, 27, 12.08, 23, 12.26, 24, 12.44, 24, 12.6, 22],
]

const leftFill: number[][] = [
  [4.58, 9.72, 18, 9.9, 19, 10.06, 18, 10.22, 16, 10.4, 17, 10.58, 17, 10.74, 18],
  [4.28, 9.08, 16, 9.26, 17, 9.44, 25, 9.62, 27, 9.8, 20, 9.98, 18, 10.16, 19, 10.34, 18, 10.52, 18, 10.7, 21, 10.88, 18],
  [3.98, 8.92, 14, 9.06, 16, 9.24, 18, 9.42, 31, 9.58, 26, 9.76, 21, 9.94, 19, 10.12, 17, 10.3, 17, 10.48, 18, 10.66, 16, 10.84, 20],
  [3.68, 8.9, 15, 9.08, 16, 9.26, 17, 9.44, 27, 9.62, 25, 9.8, 21, 9.98, 19, 10.16, 15, 10.34, 17, 10.52, 18, 10.7, 15, 10.88, 21, 11.06, 25, 11.24, 27, 11.42, 30, 11.6, 31, 11.78, 26, 11.96, 24, 12.14, 22, 12.32, 23, 12.5, 19],
  [3.38, 8.84, 14, 9.0, 16, 9.18, 18, 9.36, 26, 9.54, 22, 9.72, 18, 9.9, 17, 10.08, 14, 10.26, 18, 10.44, 15, 10.62, 15, 10.8, 22, 10.98, 24, 11.16, 26, 11.34, 28, 11.52, 27, 11.7, 24, 11.88, 23, 12.06, 20, 12.24, 19, 12.42, 20],
  [3.08, 8.9, 15, 9.08, 22, 9.26, 17, 9.44, 21, 9.62, 15, 9.8, 14, 9.98, 12, 10.16, 14, 10.34, 16, 10.52, 13, 10.7, 18, 10.88, 22, 11.06, 24, 11.24, 24, 11.42, 26, 11.6, 22, 11.78, 22, 11.96, 20, 12.14, 20, 12.32, 19],
  [2.79, 8.86, 15, 9.02, 23, 9.2, 19, 9.38, 22, 9.56, 14, 9.74, 13, 9.92, 11, 10.1, 11, 10.28, 13, 10.46, 12, 10.64, 17, 10.82, 20, 11.0, 24, 11.18, 25, 11.36, 22, 11.54, 24, 11.72, 18, 11.9, 21, 12.08, 18, 12.26, 18],
  [2.49, 8.82, 18, 9.0, 19, 9.18, 22, 9.36, 20, 9.54, 14, 10.28, 9, 10.46, 13, 10.64, 15, 10.82, 17, 11.0, 24, 11.18, 28, 11.36, 18, 11.54, 21, 11.72, 17, 11.9, 19, 12.08, 18],
  [2.19, 8.86, 17, 9.04, 17, 9.22, 17, 9.4, 17, 9.58, 13, 10.0, 9, 10.18, 8, 10.36, 13, 10.54, 19, 10.72, 21, 10.9, 22, 11.08, 27, 11.26, 18, 11.44, 15, 11.62, 20, 11.8, 15, 11.98, 13],
  [1.89, 8.74, 15, 8.92, 15, 9.1, 13, 9.28, 12, 9.46, 16, 9.94, 12, 10.12, 8, 10.3, 10, 10.48, 15, 10.66, 23, 10.84, 22, 11.02, 26, 11.2, 17, 11.38, 14, 11.56, 13, 11.74, 13, 11.92, 10],
  [1.6, 8.7, 14, 8.86, 14, 9.04, 11, 9.22, 11, 9.4, 12, 9.76, 10, 9.94, 14, 10.12, 11, 10.3, 11, 10.48, 18, 10.66, 19, 10.84, 26, 11.02, 20, 11.2, 14, 11.38, 14, 11.56, 9, 11.74, 10, 11.92, 12],
  [1.31, 8.7, 12, 8.88, 11, 9.06, 9, 9.24, 10, 9.7, 11, 9.88, 14, 10.06, 14, 10.24, 12, 10.42, 19, 10.6, 20, 10.78, 24, 10.96, 12, 11.14, 12, 11.32, 10, 11.5, 12, 11.68, 10, 11.86, 15, 12.04, 24, 12.2, 30],
  [1.01, 8.68, 10, 8.86, 10, 9.04, 8, 9.22, 10, 9.4, 11, 9.58, 13, 9.76, 13, 9.94, 15, 10.12, 11, 10.3, 16, 10.48, 18, 10.66, 14, 10.84, 14, 11.02, 12, 11.2, 12, 11.38, 12, 11.56, 13, 11.74, 15, 11.92, 19],
  [0.71, 8.52, 12, 8.7, 11, 8.88, 8, 9.06, 7, 9.24, 9, 9.42, 12, 9.6, 11, 9.78, 12, 9.96, 15, 10.14, 13, 10.32, 15, 10.5, 12, 10.68, 11, 10.86, 18, 11.04, 12, 11.22, 15, 11.4, 13],
  [0.42, 8.52, 12, 8.7, 11, 8.88, 8, 9.04, 7, 9.22, 8, 9.4, 9, 9.58, 11, 9.76, 10, 9.94, 13, 10.12, 13, 10.3, 14, 10.48, 10, 10.66, 14, 10.84, 14],
  [0.14, 8.72, 9, 8.9, 7, 9.08, 6, 9.26, 7, 9.44, 7, 9.62, 9, 9.8, 10, 9.98, 14, 10.16, 12, 10.34, 14, 10.5, 10],
  [-0.12, 9.02, 5, 9.14, 6, 9.3, 6, 9.46, 7, 9.62, 8, 9.8, 11, 9.98, 14, 10.16, 16, 10.3, 14],
  [-0.4, 10.02, 18, 10.16, 18, 10.28, 20],
]

const bottomFill: number[][] = [
  [-4.68, 12.8, 28, 12.98, 28, 13.16, 30, 13.34, 31, 13.52, 31, 14.42, 30, 14.56, 32],
  [-4.96, 12.64, 14, 12.8, 20, 12.98, 26, 13.16, 28, 13.34, 27, 13.52, 28, 13.7, 27, 14.16, 14, 14.34, 17, 14.5, 22],
  [-5.25, 12.54, 10, 12.7, 17, 12.88, 22, 13.06, 23, 13.24, 22, 13.42, 24, 13.6, 24, 13.78, 26, 13.96, 25, 14.14, 14, 14.32, 15, 14.5, 18, 14.66, 22],
  [-5.54, 12.42, 12, 12.58, 16, 12.76, 23, 12.94, 18, 13.12, 18, 13.3, 20, 13.48, 23, 13.66, 25, 13.84, 26, 14.02, 18, 14.2, 14, 14.38, 15, 14.56, 18, 14.7, 17],
  [-5.82, 12.32, 15, 12.48, 16, 12.66, 20, 12.84, 15, 13.02, 15, 13.2, 15, 13.38, 16, 13.56, 19, 13.74, 24, 13.92, 24, 14.1, 13, 14.28, 13, 14.46, 14, 14.64, 14, 14.76, 17],
  [-6.08, 12.26, 24, 12.42, 24, 12.6, 22, 12.78, 16, 12.96, 15, 13.14, 14, 13.32, 12, 13.5, 12, 13.68, 14, 13.86, 15, 14.04, 11, 14.22, 12, 14.4, 10, 14.58, 12, 14.74, 16],
  [-6.35, 12.2, 33, 12.34, 31, 12.5, 28, 12.68, 22, 12.86, 16, 13.04, 18, 13.22, 13, 13.4, 12, 13.58, 15, 13.76, 11, 13.94, 11, 14.12, 11, 14.3, 9, 14.48, 11, 14.66, 14],
  [-6.62, 12.54, 29, 12.72, 24, 12.9, 22, 13.08, 18, 13.26, 16, 13.44, 14, 13.62, 14, 13.8, 9, 13.98, 12, 14.16, 10, 14.34, 9, 14.52, 9, 14.7, 13],
  [-6.9, 13.12, 19, 13.3, 18, 13.48, 15, 13.66, 12, 13.84, 11, 14.02, 11, 14.2, 10, 14.38, 8, 14.56, 7, 14.7, 8],
  [-7.14, 13.62, 17, 13.8, 15, 13.98, 12, 14.16, 11, 14.34, 9, 14.52, 6, 14.64, 7],
]

const xTicks = [8, 10, 12, 14, 16, 18]
const yTicks = [-5, 0, 5, 10, 15]
const colorTicks = [5, 10, 15, 20, 25, 30, 35]
const colorRange = [{ name: "value", range: [4, 36] }]

const allRows = [
  ...topRows, ...midRows, ...wingTopRows, ...wingLowRows, ...leftRows, ...tailRows, ...bottomRows,
  ...topFill, ...midFill, ...wingFill, ...leftFill, ...bottomFill,
]

const points = allRows.flatMap((row) => {
  const out: { x: number; y: number; v: number }[] = []
  for (let i = 1; i < row.length; i += 2) out.push({ x: row[i], y: row[0], v: row[i + 1] })
  return out
})

// mix the drawing order so the rows don't overlap like roof tiles
const drawOrder = (p: { x: number; y: number }) => Math.round(p.x * 100 + p.y * 700) % 17
points.sort((a, b) => drawOrder(a) - drawOrder(b))

const low = [221, 92, 120]
const mid = [247, 238, 238]
const high = [123, 123, 223]

function colorOf(v: number) {
  const t = (v - 4) / 32
  const a = t < 0.5 ? low : mid
  const b = t < 0.5 ? mid : high
  const k = t < 0.5 ? t * 2 : (t - 0.5) * 2
  const c = a.map((n, i) => Math.round(n + (b[i] - n) * k))
  return `rgb(${c[0]},${c[1]},${c[2]})`
}

const font = "DejaVu Sans"
const tickStyle = { fontSize: 42, fontFamily: font, fill: "#000" }
const lineStyle = { stroke: "#000", strokeWidth: 1.5 }

function Dot(props: any) {
  return <circle cx={props.cx} cy={props.cy} r={6.2} fill={colorOf(props.payload.v)} stroke="#000" strokeOpacity={0.7} strokeWidth={0.6} />
}

export default function App() {
  return (
    <div style={{ position: "absolute", left: 0, top: 0, width: 1079, height: 917, background: "#fff" }}>
      <div style={{ position: "absolute", left: 0, top: 0 }}>
        <ScatterChart width={960} height={917} margin={{ top: 33, right: 46, bottom: 0, left: 0 }}>
          <XAxis
            type="number"
            dataKey="x"
            domain={[8, 18]}
            ticks={xTicks}
            height={118}
            interval={0}
            tick={tickStyle}
            tickSize={10}
            tickMargin={12}
            axisLine={lineStyle}
            tickLine={lineStyle}
            label={{ value: "UMAP1", position: "insideBottom", offset: 10, style: { fontSize: 53, fontFamily: font, fill: "#000" } }}
          />
          <YAxis
            type="number"
            dataKey="y"
            domain={[-8, 15]}
            ticks={yTicks}
            width={154}
            interval={0}
            tick={tickStyle}
            tickSize={10}
            tickMargin={5}
            tickFormatter={(v) => `${v}`.replace("-", "\u2212")}
            axisLine={lineStyle}
            tickLine={lineStyle}
            label={{ value: "UMAP2", angle: -90, position: "insideLeft", offset: 38, style: { fontSize: 53, fontFamily: font, fill: "#000", textAnchor: "middle" } }}
          />
          <Scatter data={points} isAnimationActive={false} shape={Dot} />
          <ReferenceArea x1={8} x2={18} y1={-8} y2={15} fill="none" stroke="#000" strokeWidth={1.5} ifOverflow="visible" />
        </ScatterChart>
      </div>
      <div style={{ position: "absolute", left: 961, top: 0 }}>
        <BarChart width={118} height={917} data={colorRange} barCategoryGap={0} margin={{ top: 33, right: 0, bottom: 118, left: 0 }}>
          <defs>
            <linearGradient id="cbar" x1="0" y1="0" x2="0" y2="1">
              <stop offset="0%" stopColor="rgb(123,123,223)" />
              <stop offset="50%" stopColor="rgb(247,238,238)" />
              <stop offset="100%" stopColor="rgb(221,92,120)" />
            </linearGradient>
          </defs>
          <XAxis dataKey="name" hide />
          <YAxis
            orientation="right"
            type="number"
            domain={[4, 36]}
            ticks={colorTicks}
            width={77}
            interval={0}
            tick={tickStyle}
            tickSize={10}
            tickMargin={6}
            axisLine={false}
            tickLine={lineStyle}
          />
          <Bar dataKey="range" fill="url(#cbar)" stroke="#000" strokeWidth={1.5} isAnimationActive={false} />
        </BarChart>
      </div>
    </div>
  )
}
